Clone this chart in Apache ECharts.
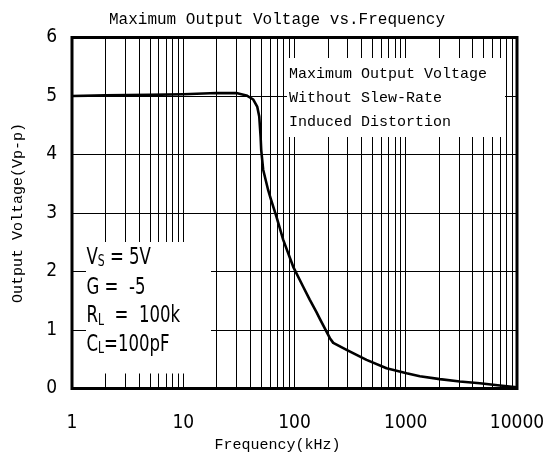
<!DOCTYPE html>
<html><head><meta charset="utf-8">
<script src="https://cdn.jsdelivr.net/npm/echarts@6/dist/echarts.min.js"></script>
<style>html,body{margin:0;padding:0;background:#fff}#c{width:554px;height:462px}</style>
</head><body><div id="c"></div>
<script>
// ---- data ----
const freqKHz = [1, 2, 5, 10, 20, 30, 37, 42.6, 46.2, 48.2, 49.6, 50.2, 52.3, 58, 61, 69, 79.2, 97.4, 119.7, 137, 158, 169, 208, 223, 294, 444, 672, 1017, 1339, 2025, 3063, 4634, 7016, 10000];
const outputVpp = [5.00, 5.01, 5.02, 5.03, 5.05, 5.05, 5.01, 4.94, 4.82, 4.65, 4.30, 4.08, 3.74, 3.39, 3.25, 2.93, 2.54, 2.08, 1.74, 1.52, 1.30, 1.19, 0.86, 0.78, 0.66, 0.49, 0.345, 0.26, 0.21, 0.16, 0.12, 0.09, 0.05, 0.02];
const xTickLabels = [1, 10, 100, 1000, 10000];
const xGridValues = [1,2,3,4,5,6,7,8,9,10,20,30,40,50,60,70,80,90,100,200,300,400,500,600,700,800,900,1000,2000,3000,4000,5000,6000,7000,8000,9000,10000];
const yMin = 0, yMax = 6, yStep = 1;
const titleText = 'Maximum Output Voltage vs.Frequency';
const xName = 'Frequency(kHz)';
const yName = 'Output Voltage(Vp-p)';
const noteLines = ['Maximum Output Voltage', 'Without Slew-Rate', 'Induced Distortion'];

const MONO = "'Liberation Mono','DejaVu Sans Mono',monospace";
const NARROW = "'Liberation Sans Narrow','DejaVu Sans Condensed','Liberation Sans',sans-serif";

const chart = echarts.init(document.getElementById('c'), null, {renderer: 'canvas'});
const condRich = {
  m: {font: '23px ' + NARROW, fill: '#000', lineHeight: 24},
  s: {font: '15px ' + NARROW, fill: '#000', lineHeight: 12, verticalAlign: 'bottom'}
};
const condLines = ['{m|V}{s|S}{m| = 5V}', '{m|G =  -5}', '{m|R}{s|L}{m|  =  100k}', '{m|C}{s|L}{m|=100pF}'];
const condY = [258, 288, 316.5, 345];

const graphics = [
  {type: 'rect', z: 5, shape: {x: 287, y: 58, width: 218, height: 79}, style: {fill: '#fff'}},
  {type: 'rect', z: 5, shape: {x: 86, y: 242, width: 125, height: 131.5}, style: {fill: '#fff'}}
];
noteLines.forEach((t, i) => graphics.push({type: 'text', z: 6, x: 289, y: 74 + i * 24,
  style: {text: t, font: '15px ' + MONO, fill: '#000', verticalAlign: 'middle'}}));
condLines.forEach((t, i) => graphics.push({type: 'text', z: 6, x: 86.5, y: condY[i], scaleX: 0.8,
  style: {text: t, rich: condRich, verticalAlign: 'middle'}}));

chart.setOption({
  animation: false,
  backgroundColor: '#fff',
  title: {text: titleText, left: 'center', top: 7,
    textStyle: {fontFamily: MONO, fontSize: 16, fontWeight: 'normal', color: '#000'}},
  grid: {left: 72, right: 37, top: 37.5, bottom: 73.5, show: true, borderColor: '#000', borderWidth: 3,
    backgroundColor: 'transparent'},
  xAxis: {
    type: 'log', logBase: 10, min: 1, max: 10000,
    name: xName, nameLocation: 'middle', nameGap: 47,
    nameTextStyle: {fontFamily: MONO, fontSize: 15, color: '#000', padding: [0, 34, 0, 0]},
    axisLine: {show: false},
    axisTick: {show: false, customValues: xGridValues},
    axisLabel: {customValues: xTickLabels, margin: 25, fontFamily: NARROW, fontSize: 19, color: '#000',
      formatter: v => String(v)},
    splitLine: {show: true, lineStyle: {color: '#000', width: 1}},
    minorSplitLine: {show: false}
  },
  yAxis: {
    type: 'value', min: yMin, max: yMax, interval: yStep,
    name: yName, nameLocation: 'middle', nameGap: 46, nameRotate: 90,
    nameTextStyle: {fontFamily: MONO, fontSize: 15, color: '#000'},
    axisLine: {show: false}, axisTick: {show: false},
    axisLabel: {margin: 15, fontFamily: NARROW, fontSize: 19, color: '#000'},
    splitLine: {show: true, lineStyle: {color: '#000', width: 1}}
  },
  graphic: graphics,
  series: [{
    type: 'line', z: 3,
    data: freqKHz.map((f, i) => [f, outputVpp[i]]),
    showSymbol: false, smooth: false,
    lineStyle: {color: '#000', width: 2.6, join: 'round'}
  }]
});
</script>
</body></html>
